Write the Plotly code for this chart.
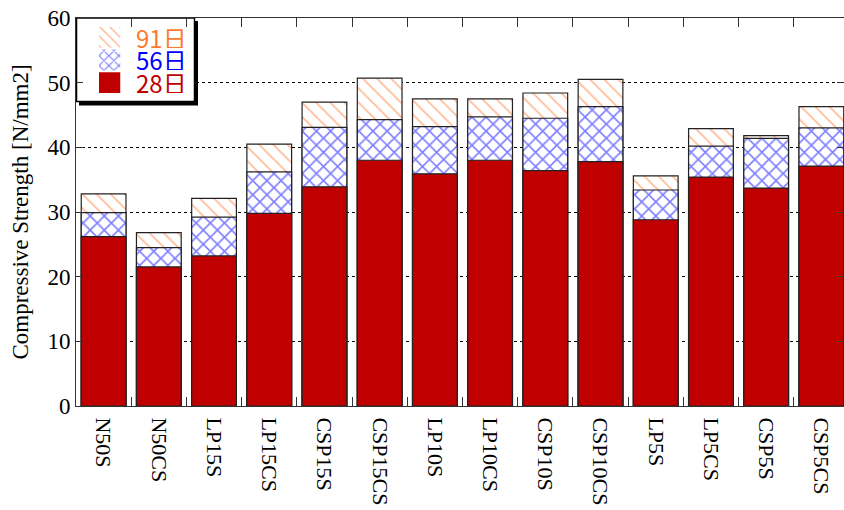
import plotly.graph_objects as go

categories = ["N50S", "N50CS", "LP15S", "LP15CS", "CSP15S", "CSP15CS", "LP10S",
              "LP10CS", "CSP10S", "CSP10CS", "LP5S", "LP5CS", "CSP5S", "CSP5CS"]
day28 = [26.2, 21.5, 23.2, 29.8, 33.9, 38.0, 35.9, 38.0, 36.4, 37.8, 28.8, 35.4, 33.7, 37.1]
day56 = [29.9, 24.5, 29.2, 36.2, 43.1, 44.3, 43.2, 44.7, 44.5, 46.3, 33.4, 40.2, 41.4, 43.0]
day91 = [32.8, 26.8, 32.1, 40.5, 47.0, 50.7, 47.5, 47.5, 48.4, 50.5, 35.6, 42.9, 41.8, 46.3]
series_names = ["91日", "56日", "28日"]
y_ticks = [0, 10, 20, 30, 40, 50, 60]

RED = "#C00000"
BLUE = "#0000FF"
ORANGE = "#FF7A30"
SERIF = "Liberation Serif"
SANS = "Noto Sans CJK JP"

W, H = 844, 510
ML, MR, MT, MB = 76, 0, 18, 104
PW = W - ML - MR
PH = H - MT - MB
XR = [-0.5, 13.41]
YR = [0, 60]

def fx(px):
    return (px - ML) / PW

def fy(py):
    return (H - MB - py) / PH

def dx(px):
    return XR[0] + fx(px) * (XR[1] - XR[0])

def dy(py):
    return YR[0] + fy(py) * (YR[1] - YR[0])

fig = go.Figure()
outline = dict(color="#222222", width=1.2)
fig.add_trace(go.Bar(x=categories, y=day91, width=0.81, name=series_names[0],
                     marker=dict(color="white", line=outline,
                                 pattern=dict(shape="\\", fgcolor=ORANGE, bgcolor="white",
                                              size=10, solidity=0.18)),
                     showlegend=False))
fig.add_trace(go.Bar(x=categories, y=day56, width=0.81, name=series_names[1],
                     marker=dict(color="white", line=outline,
                                 pattern=dict(shape="x", fgcolor=BLUE, bgcolor="white",
                                              size=10, solidity=0.3)),
                     showlegend=False))
fig.add_trace(go.Bar(x=categories, y=day28, width=0.81, name=series_names[2],
                     marker=dict(color=RED, line=outline), showlegend=False))

# legend swatches on an inset axis
sw_cats = ["28日", "56日", "91日"]
fig.add_trace(go.Bar(y=[sw_cats[2]], x=[1], orientation="h", xaxis="x2", yaxis="y2", width=0.92,
                     marker=dict(color="white", line=dict(width=0),
                                 pattern=dict(shape="\\", fgcolor=ORANGE, bgcolor="white",
                                              size=7, solidity=0.22)),
                     showlegend=False, hoverinfo="skip"))
fig.add_trace(go.Bar(y=[sw_cats[1]], x=[1], orientation="h", xaxis="x2", yaxis="y2", width=0.92,
                     marker=dict(color="white", line=dict(width=0),
                                 pattern=dict(shape="x", fgcolor=BLUE, bgcolor="white",
                                              size=7, solidity=0.3)),
                     showlegend=False, hoverinfo="skip"))
fig.add_trace(go.Bar(y=[sw_cats[0]], x=[1], orientation="h", xaxis="x2", yaxis="y2", width=0.92,
                     marker=dict(color=RED, line=dict(width=0)),
                     showlegend=False, hoverinfo="skip"))

# legend box + shadow (between gridlines and bars)
fig.add_shape(type="rect", xref="x", yref="y", layer="between",
              x0=dx(79), x1=dx(198), y0=dy(105.5), y1=dy(21),
              fillcolor="black", line=dict(width=0))
fig.add_shape(type="rect", xref="x", yref="y", layer="between",
              x0=dx(76.5), x1=dx(194.5), y0=dy(101.5), y1=dy(18),
              fillcolor="white", line=dict(color="black", width=1.5))

label_colors = [ORANGE, BLUE, RED]
label_y = [37, 60, 83]
for name, col, py in zip(series_names, label_colors, label_y):
    fig.add_annotation(text=name, xref="paper", yref="paper", x=fx(134), y=fy(py),
                       xanchor="left", yanchor="middle", showarrow=False,
                       height=21, valign="middle",
                       font=dict(family=SANS, size=24, color=col))

fig.update_layout(
    width=W, height=H,
    margin=dict(l=ML, r=MR, t=MT, b=MB, autoexpand=False),
    paper_bgcolor="white", plot_bgcolor="white",
    barmode="overlay", showlegend=False,
    xaxis=dict(type="category", categoryorder="array", categoryarray=categories,
               range=XR, tickangle=90, ticks="inside", tickson="boundaries",
               ticklen=9, tickcolor="#333", showline=True, linecolor="#333", linewidth=1,
               mirror="ticks", showgrid=False, automargin=False, ticklabelstandoff=6,
               tickfont=dict(family=SERIF, size=22, color="black")),
    yaxis=dict(range=YR, tickvals=y_ticks, ticks="inside", ticklen=7, tickcolor="#333",
               showline=True, linecolor="#333", linewidth=1, mirror="ticks",
               showgrid=True, gridcolor="black", griddash="dot", gridwidth=1,
               zeroline=False, automargin=False,
               tickfont=dict(family=SERIF, size=23, color="black"),
               title=dict(text="Compressive Strength [N/mm2]", standoff=12,
                          font=dict(family=SERIF, size=23, color="black"))),
    xaxis2=dict(domain=[fx(99), fx(120.5)], range=[0, 1], anchor="y2", visible=False,
                fixedrange=True),
    yaxis2=dict(domain=[fy(94), fy(26)], type="category", categoryorder="array",
                categoryarray=sw_cats, range=[-0.5, 2.5], anchor="x2", visible=False,
                fixedrange=True),
)

fig.write_html("out.html", config={"displayModeBar": False},
               post_script="document.body.style.margin='0';")
